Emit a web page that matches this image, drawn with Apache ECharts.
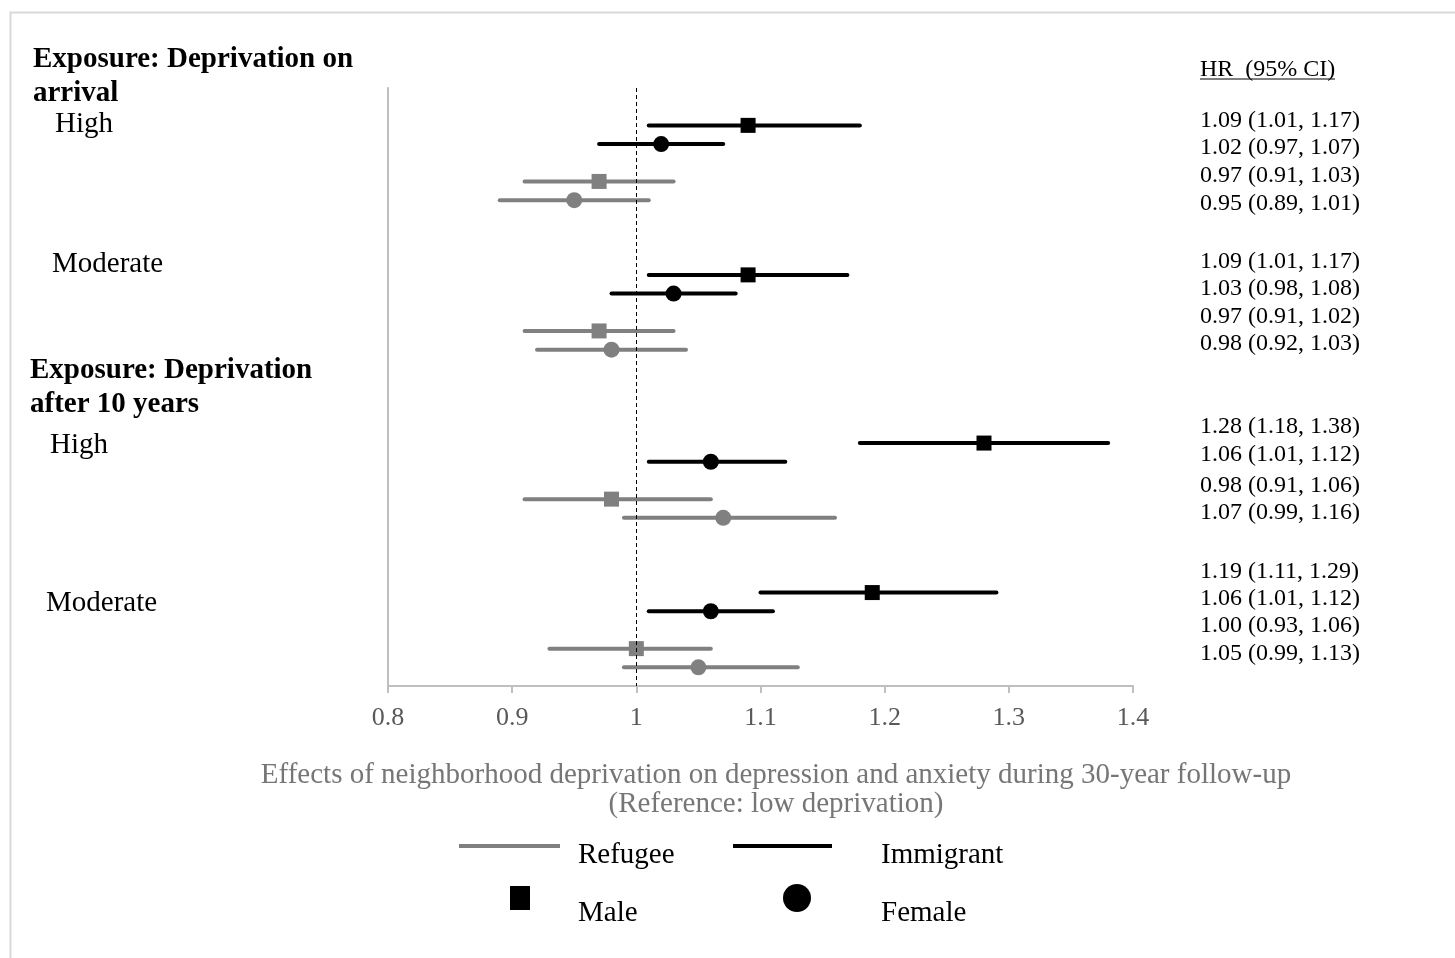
<!DOCTYPE html>
<html>
<head>
<meta charset="utf-8">
<script src="https://cdn.jsdelivr.net/npm/echarts@6/dist/echarts.min.js"></script>
<style>
html,body{margin:0;padding:0;background:#fff;}
#chart{width:1455px;height:958px;}
</style>
</head>
<body>
<div id="chart"></div>
<script>
// ---- data ----
const rowPos = [2,3,5,6, 10,11,13,14, 19,20,22,23, 27,28,30,31];
const status = ['Immigrant','Immigrant','Refugee','Refugee','Immigrant','Immigrant','Refugee','Refugee',
                'Immigrant','Immigrant','Refugee','Refugee','Immigrant','Immigrant','Refugee','Refugee'];
const sex = ['Male','Female','Male','Female','Male','Female','Male','Female',
             'Male','Female','Male','Female','Male','Female','Male','Female'];
const hrValues = [1.09,1.02,0.97,0.95, 1.09,1.03,0.97,0.98, 1.28,1.06,0.98,1.07, 1.19,1.06,1.00,1.05];
const lowerCI  = [1.01,0.97,0.91,0.89, 1.01,0.98,0.91,0.92, 1.18,1.01,0.91,0.99, 1.10,1.01,0.93,0.99];
const upperCI  = [1.18,1.07,1.03,1.01, 1.17,1.08,1.03,1.04, 1.38,1.12,1.06,1.16, 1.29,1.11,1.06,1.13];
const hrLabels = ['1.09 (1.01, 1.17)','1.02 (0.97, 1.07)','0.97 (0.91, 1.03)','0.95 (0.89, 1.01)',
                  '1.09 (1.01, 1.17)','1.03 (0.98, 1.08)','0.97 (0.91, 1.02)','0.98 (0.92, 1.03)',
                  '1.28 (1.18, 1.38)','1.06 (1.01, 1.12)','0.98 (0.91, 1.06)','1.07 (0.99, 1.16)',
                  '1.19 (1.11, 1.29)','1.06 (1.01, 1.12)','1.00 (0.93, 1.06)','1.05 (0.99, 1.13)'];
const xTicks = [0.8, 0.9, 1.0, 1.1, 1.2, 1.3, 1.4];
const sectionLabels = [
  {text:'Exposure: Deprivation on', bold:true},
  {text:'arrival', bold:true},
  {text:'High', bold:false},
  {text:'Moderate', bold:false},
  {text:'Exposure: Deprivation', bold:true},
  {text:'after 10 years', bold:true},
  {text:'High', bold:false},
  {text:'Moderate', bold:false}
];
const axisTitle = ['Effects of neighborhood deprivation on depression and anxiety during 30-year follow-up',
                   '(Reference: low deprivation)'];
const legendItems = ['Refugee','Immigrant','Male','Female'];

// ---- layout (not data) ----
const FONT = 'Liberation Serif';
const sectionLayout = [[33,60],[33,94],[55,124],[52,264],[30,371],[30,405],[50,445],[46,603]];
const hrLabelY = [121,148,176,204, 262,289,317,344, 427,455,486,513, 572,599,626,654];
const colors = {Immigrant:'#000000', Refugee:'#808080'};

function seriesFor(st, sx) {
  const data = [];
  for (let i = 0; i < rowPos.length; i++) {
    if (status[i] === st && sex[i] === sx) data.push([lowerCI[i], upperCI[i], hrValues[i], rowPos[i]]);
  }
  const color = colors[st];
  return {
    type: 'custom',
    name: st + ' ' + sx,
    data: data,
    encode: {x: [0,1,2], y: 3},
    renderItem: function (params, api) {
      const y = api.value(3);
      const lo = api.coord([api.value(0), y]);
      const hi = api.coord([api.value(1), y]);
      const pt = api.coord([api.value(2), y]);
      const marker = sx === 'Male'
        ? {type:'rect', shape:{x:pt[0]-7.5, y:pt[1]-7.5, width:15, height:15}, style:{fill:color}}
        : {type:'circle', shape:{cx:pt[0], cy:pt[1], r:8}, style:{fill:color}};
      return {type:'group', children:[
        {type:'line', shape:{x1:lo[0], y1:lo[1], x2:hi[0], y2:hi[1]},
         style:{stroke:color, lineWidth:4, lineCap:'round'}},
        marker
      ]};
    }
  };
}

const graphics = [];
graphics.push({type:'rect', left:8, top:10, shape:{width:1500, height:1000},
  style:{fill:'none', stroke:'#d9d9d9', lineWidth:2}, silent:true});
sectionLabels.forEach((s, i) => {
  graphics.push({type:'text', x:sectionLayout[i][0], y:sectionLayout[i][1],
    style:{text:s.text, font:(s.bold?'bold ':'') + '29px "' + FONT + '"', fill:'#000',
      textAlign:'left', textVerticalAlign:'middle'}});
});
graphics.push({type:'text', x:1200, y:70, style:{text:'HR  (95% CI)', font:'24px "' + FONT + '"',
  fill:'#000', textAlign:'left', textVerticalAlign:'middle'}});
graphics.push({type:'line', shape:{x1:1200, y1:79, x2:1335, y2:79}, style:{stroke:'#000', lineWidth:1}});
hrLabels.forEach((t, i) => {
  graphics.push({type:'text', x:1200, y:hrLabelY[i], style:{text:t, font:'24px "' + FONT + '"',
    fill:'#000', textAlign:'left', textVerticalAlign:'middle'}});
});
axisTitle.forEach((t, i) => {
  graphics.push({type:'text', x:776, y:775 + i*29, style:{text:t, font:'29px "' + FONT + '"',
    fill:'#767676', textAlign:'center', textVerticalAlign:'middle'}});
});
// legend
graphics.push({type:'line', shape:{x1:459, y1:846, x2:560, y2:846}, style:{stroke:colors.Refugee, lineWidth:4}});
graphics.push({type:'line', shape:{x1:733, y1:846, x2:832, y2:846}, style:{stroke:colors.Immigrant, lineWidth:4}});
graphics.push({type:'rect', shape:{x:510, y:886, width:20, height:24}, style:{fill:'#000'}});
graphics.push({type:'circle', shape:{cx:797, cy:898, r:14}, style:{fill:'#000'}});
[[578,855],[881,855],[578,913],[881,913]].forEach((p, i) => {
  graphics.push({type:'text', x:p[0], y:p[1], style:{text:legendItems[i], font:'29px "' + FONT + '"',
    fill:'#000', textAlign:'left', textVerticalAlign:'middle'}});
});

const series = [
  seriesFor('Immigrant','Male'),
  seriesFor('Immigrant','Female'),
  seriesFor('Refugee','Male'),
  seriesFor('Refugee','Female')
];
series[0].markLine = {
  silent:true, symbol:'none', label:{show:false},
  lineStyle:{color:'#000', type:[4,3], width:1},
  data:[{xAxis:1}]
};

const chart = echarts.init(document.getElementById('chart'), null, {renderer:'canvas'});
chart.setOption({
  animation:false,
  backgroundColor:'#fff',
  grid:{left:388, top:88, width:745, height:598},
  xAxis:{type:'value', position:'bottom', min:xTicks[0], max:xTicks[xTicks.length-1], interval:0.1,
    axisLine:{show:true, onZero:false, lineStyle:{color:'#bfbfbf', width:2}},
    axisTick:{show:true, length:7, lineStyle:{color:'#bfbfbf', width:2}},
    splitLine:{show:false},
    axisLabel:{color:'#595959', fontFamily:FONT, fontSize:26, margin:19,
      formatter: v => String(Math.round(v*10)/10)}},
  yAxis:{type:'value', inverse:true, min:0, max:32,
    axisLine:{show:true, onZero:false, lineStyle:{color:'#bfbfbf', width:2}},
    axisTick:{show:false}, axisLabel:{show:false}, splitLine:{show:false}},
  series: series,
  graphic: graphics
});
</script>
</body>
</html>
